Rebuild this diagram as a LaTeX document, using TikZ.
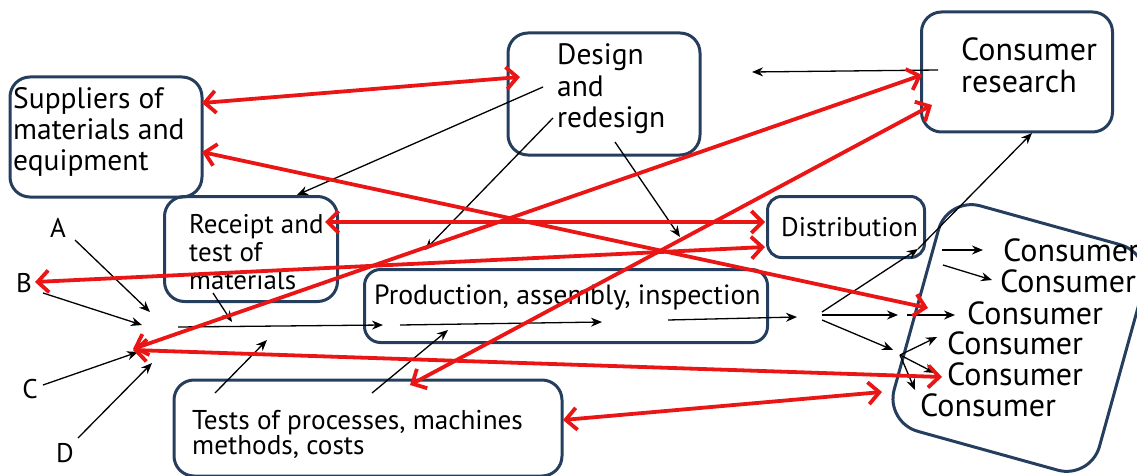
\documentclass[tikz,border=0pt]{standalone}
\usepackage{fontspec}
\setmainfont{PT Sans}
\usetikzlibrary{arrows.meta}
\definecolor{boxc}{RGB}{38,62,94}
\definecolor{redc}{RGB}{234,22,22}
\tikzset{
  box/.style={draw=boxc, line width=3pt, rounded corners=20pt, inner sep=0pt},
  txt/.style={font=\fontsize{27}{30.5}\selectfont, align=left, inner sep=0pt, anchor=west},
  big/.style={font=\fontsize{32}{32}\selectfont, align=left, inner sep=0pt, anchor=west},
  redarr/.style={draw=redc, line width=3.8pt,
    {Straight Barb[length=11pt,width=22pt]}-{Straight Barb[length=11pt,width=22pt]}},
  blk/.style={draw=black, line width=1.3pt, -{Stealth[length=11pt,width=9pt]}},
}
\begin{document}
\begin{tikzpicture}[x=1pt,y=-1pt]
\useasboundingbox (0,0) rectangle (1137,476);
% boxes
\node[box, minimum width=192pt, minimum height=120pt] (sup) at (106,137) {};
\node[box, minimum width=192pt, minimum height=122pt] (des) at (604,94) {};
\node[box, minimum width=191pt, minimum height=120pt] (cres) at (1017,72) {};
\node[box, minimum width=173pt, minimum height=105pt] (rec) at (251,249) {};
\node[box, minimum width=157pt, minimum height=61pt, rounded corners=14pt] (dist) at (846,227) {};
\node[box, minimum width=403pt, minimum height=73pt, rounded corners=16pt] (prod) at (566,306) {};
\node[box, minimum width=388pt, minimum height=96pt] (tests) at (368,428) {};
\node[box, rotate=-15.5, minimum width=213pt, minimum height=234pt, rounded corners=34pt] (cbox) at (1019,338) {};
% texts
\node[txt, font=\fontsize{29.5}{31}\selectfont] (suptxt) at (13,132) {Suppliers of\\materials and\\equipment};
\node[txt, font=\fontsize{29.5}{31.5}\selectfont] (destxt) at (557,89) {Design\\and\\redesign};
\node[big] (crestxt) at (961,65) {Consumer\\research};
\node[txt, font=\fontsize{27}{28}\selectfont] (rectxt) at (189,252) {Receipt and\\test of\\materials};
\node[txt] (disttxt) at (781,227) {Distribution};
\node[txt, font=\fontsize{27.8}{30}\selectfont] (prodtxt) at (374,298) {Production, assembly, inspection};
\node[txt, font=\fontsize{27.2}{25}\selectfont] (teststxt) at (192,434) {Tests of processes, machines\\methods, costs};
\node[big] (c1) at (1003,250) {Consumer};
\node[big] (c2) at (1000,281) {Consumer};
\node[big] (c3) at (967,313) {Consumer};
\node[big] (c4) at (947,343) {Consumer};
\node[big] (c5) at (947,374) {Consumer};
\node[big] (c6) at (920,405) {Consumer};
\node[txt, anchor=center] (A) at (58,228) {A};
\node[txt, anchor=center] (B) at (24,283) {B};
\node[txt, anchor=center] (C) at (30,389) {C};
\node[txt, anchor=center] (D) at (65,453) {D};
% coordinates
\coordinate (hub) at (133,349);
\coordinate (a1) at (75,240);   \coordinate (a2) at (150,312);
\coordinate (b1) at (43,293);   \coordinate (b2) at (142,325);
\coordinate (c1s) at (43,385);  \coordinate (c2e) at (138,352);
\coordinate (d1) at (78,438);   \coordinate (d2) at (152,363);
\coordinate (l0) at (178,327);  \coordinate (l1) at (383,325);
\coordinate (l2) at (400,325);  \coordinate (l3) at (602,322);
\coordinate (l4) at (668,320);  \coordinate (l5) at (797,317);
\coordinate (fan) at (822,315);
\coordinate (f1) at (898,315);  \coordinate (f2) at (907,315); \coordinate (f3) at (955,315);
\coordinate (f4) at (893,350);  \coordinate (fan2) at (900,355);
\coordinate (dc) at (918,249);
% black arrows
\draw[blk] (938,70) -- (752,72);
\draw[blk] (543,87) -- (297,195);
\draw[blk] (553,118) -- (425,250);
\draw[blk] (615,142) -- (680,237);
\draw[blk] (a1) -- (a2);
\draw[blk] (b1) -- (b2);
\draw[blk] (c1s) -- (c2e);
\draw[blk] (d1) -- (d2);
\draw[blk] (l0) -- (l1);
\draw[blk] (l2) -- (l3);
\draw[blk] (l4) -- (l5);
\draw[blk] (213,293) -- (232,322);
\draw[blk] (215,393) -- (267,340);
\draw[blk] (372,393) -- (448,330);
\draw[blk] (822,312) -- (dc);
\draw[blk] (dc) -- (1032,133);
\draw[blk] (fan) -- (f1);
\draw[blk] (f2) -- (f3);
\draw[blk] (822,320) -- (f4);
\draw[blk] (fan2) -- (937,337);
\draw[blk] (fan2) -- (935,373);
\draw[blk] (fan2) -- (915,390);
\draw[blk] (942,250) -- (983,250);
\draw[blk] (943,265) -- (992,280);
% red arrows
\draw[redarr] (202,103) -- (520,77);
\draw[redarr] (202,152) -- (928,308);
\draw[redarr] (325,222) -- (765,222);
\draw[redarr] (35,282) -- (765,247);
\draw[redarr] (hub) -- (922,75);
\draw[redarr] (133,350) -- (942,377);
\draw[redarr] (410,385) -- (932,105);
\draw[redarr] (563,420) -- (882,392);
\end{tikzpicture}
\end{document}
